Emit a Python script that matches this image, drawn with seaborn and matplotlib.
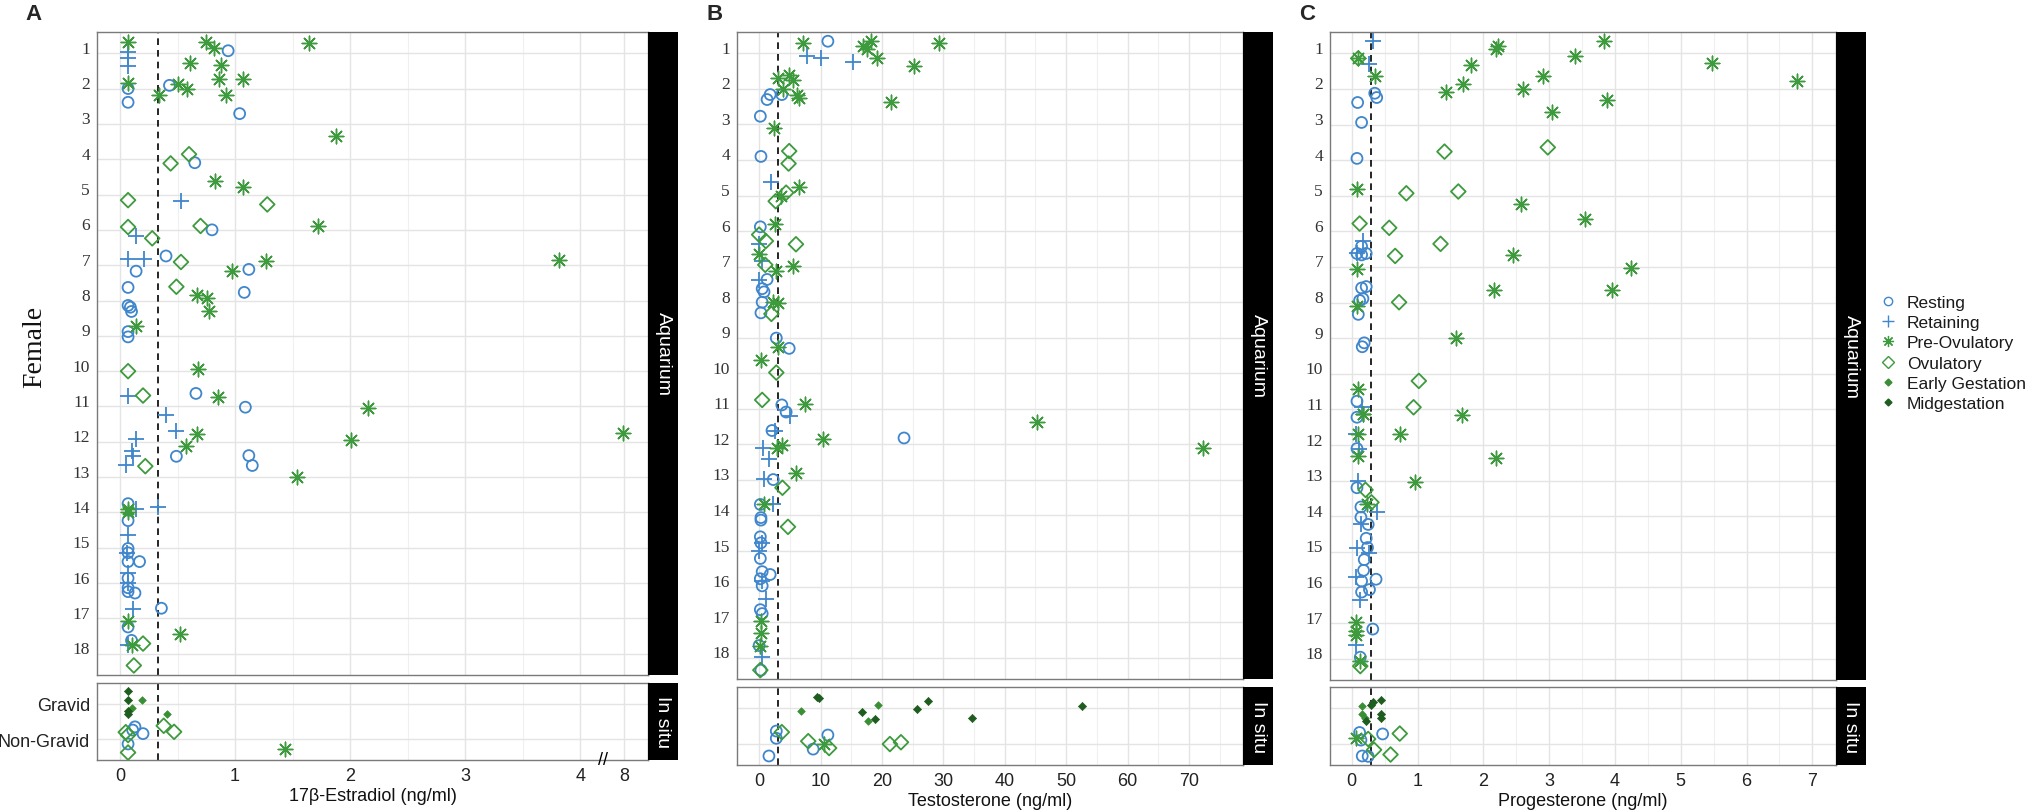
import pandas as pd
import seaborn as sns
import matplotlib.pyplot as plt
from matplotlib.lines import Line2D
from matplotlib.transforms import ScaledTranslation, blended_transform_factory

# stage codes: R resting, T retaining, P pre-ovulatory, O ovulatory,
# E early gestation, M midgestation
stage_names = {"R": "Resting", "T": "Retaining", "P": "Pre-Ovulatory",
               "O": "Ovulatory", "E": "Early Gestation", "M": "Midgestation"}

# rows: (stage, position on the female / gravid axis, concentration ng/ml)
e2_aquarium = [
    ("P", 0.69, 0.07), ("P", 0.69, 0.75), ("P", 0.86, 0.82), ("R", 0.93, 0.94), ("P", 0.70, 1.64),
    ("T", 0.97, 0.07), ("T", 1.14, 0.07), ("P", 1.29, 0.61), ("P", 1.33, 0.88), ("T", 1.36, 0.07),
    ("P", 1.83, 0.07), ("P", 1.74, 0.86), ("P", 1.74, 1.07), ("R", 1.91, 0.43), ("P", 1.88, 0.50),
    ("P", 2.00, 0.58), ("R", 2.00, 0.07), ("P", 2.19, 0.34), ("P", 2.19, 0.92), ("R", 2.39, 0.07),
    ("R", 2.71, 1.04), ("P", 3.34, 1.88),
    ("O", 3.86, 0.60), ("O", 4.12, 0.44), ("R", 4.10, 0.65),
    ("P", 4.62, 0.83), ("P", 4.79, 1.07), ("O", 5.16, 0.07), ("T", 5.19, 0.53), ("O", 5.28, 1.28),
    ("P", 5.89, 1.72), ("O", 5.92, 0.07), ("O", 5.89, 0.70), ("R", 6.00, 0.80), ("T", 6.18, 0.14),
    ("O", 6.24, 0.28), ("P", 6.85, 3.82),
    ("T", 6.83, 0.07), ("T", 6.83, 0.21), ("R", 6.74, 0.40), ("O", 6.91, 0.53), ("P", 6.88, 1.27),
    ("P", 7.17, 0.97), ("R", 7.12, 1.12), ("R", 7.17, 0.14),
    ("R", 7.63, 0.07), ("O", 7.61, 0.49), ("R", 7.77, 1.08), ("P", 7.85, 0.67), ("P", 7.94, 0.76),
    ("P", 8.30, 0.77), ("R", 8.14, 0.07), ("R", 8.19, 0.09), ("R", 8.31, 0.10),
    ("P", 8.73, 0.14), ("R", 8.88, 0.07), ("R", 9.03, 0.07),
    ("P", 9.95, 0.68), ("O", 10.00, 0.07),
    ("T", 10.69, 0.07), ("O", 10.69, 0.20), ("R", 10.63, 0.66), ("P", 10.72, 0.85), ("R", 11.02, 1.09),
    ("P", 11.05, 2.16), ("T", 11.23, 0.40), ("T", 11.68, 0.49), ("P", 11.77, 0.67), ("P", 11.74, 7.90),
    ("P", 11.96, 2.01), ("T", 11.93, 0.14), ("P", 12.13, 0.57), ("T", 12.26, 0.10), ("T", 12.40, 0.11),
    ("R", 12.41, 0.49), ("R", 12.39, 1.12), ("R", 12.67, 1.15), ("T", 12.65, 0.05), ("O", 12.69, 0.22),
    ("P", 13.00, 1.54),
    ("R", 13.75, 0.07), ("P", 13.90, 0.07), ("T", 13.90, 0.14), ("T", 13.85, 0.33), ("P", 14.00, 0.07),
    ("R", 14.23, 0.07), ("T", 14.65, 0.07),
    ("R", 15.02, 0.07), ("R", 15.14, 0.07), ("T", 15.15, 0.06), ("R", 15.39, 0.07), ("R", 15.39, 0.17),
    ("T", 15.70, 0.07), ("R", 15.86, 0.07), ("T", 15.99, 0.07), ("R", 16.13, 0.07), ("R", 16.24, 0.07),
    ("R", 16.28, 0.13), ("T", 16.73, 0.11), ("R", 16.71, 0.36),
    ("P", 17.06, 0.07), ("R", 17.24, 0.07), ("P", 17.44, 0.52), ("R", 17.62, 0.10), ("T", 17.76, 0.07),
    ("P", 17.75, 0.10), ("O", 17.71, 0.20), ("O", 18.33, 0.12),
]
e2_insitu = [
    ("M", 0.64, 0.07), ("M", 0.91, 0.07), ("E", 0.91, 0.19), ("E", 1.12, 0.10), ("M", 1.21, 0.07),
    ("M", 1.30, 0.07), ("E", 1.30, 0.41),
    ("O", 1.62, 0.38), ("O", 1.79, 0.47), ("R", 1.65, 0.13), ("R", 1.74, 0.11), ("R", 1.84, 0.20),
    ("O", 1.88, 0.07), ("O", 1.80, 0.05), ("R", 2.13, 0.07), ("P", 2.27, 1.43), ("O", 2.37, 0.07),
]

t_aquarium = [
    ("P", 0.72, 7.2), ("R", 0.66, 11.2), ("P", 0.80, 16.9), ("P", 0.89, 17.6), ("P", 0.66, 18.2),
    ("P", 0.72, 29.3), ("T", 1.08, 7.8), ("T", 1.14, 10.1), ("T", 1.23, 15.3), ("P", 1.14, 19.2),
    ("P", 1.37, 25.2),
    ("P", 1.68, 3.1), ("P", 1.60, 4.9), ("P", 1.74, 5.5), ("P", 2.00, 3.9), ("R", 2.16, 1.8),
    ("R", 2.30, 1.3), ("R", 2.16, 3.7), ("P", 2.16, 6.2), ("P", 2.27, 6.5), ("P", 2.37, 21.5),
    ("R", 2.77, 0.2), ("P", 3.11, 2.4),
    ("R", 3.90, 0.3), ("O", 3.75, 4.9), ("O", 4.10, 4.8),
    ("T", 4.62, 1.9), ("P", 4.75, 6.5), ("P", 5.00, 3.6), ("O", 4.92, 4.4), ("O", 5.16, 2.7),
    ("P", 5.80, 2.6), ("R", 5.88, 0.2), ("O", 6.10, 0.0), ("O", 6.28, 1.1), ("T", 6.37, 0.0),
    ("O", 6.37, 6.0),
    ("P", 6.64, 0.0), ("T", 6.84, 0.5), ("O", 6.95, 1.0), ("P", 7.12, 2.7), ("P", 6.99, 5.6),
    ("T", 7.39, 0.0), ("R", 7.36, 1.3), ("R", 7.62, 0.5), ("R", 7.71, 0.8),
    ("R", 8.00, 0.5), ("P", 8.00, 2.3), ("P", 8.02, 3.1), ("R", 8.30, 0.3), ("O", 8.33, 2.0),
    ("R", 9.01, 2.8), ("P", 9.27, 3.0), ("R", 9.30, 4.9),
    ("P", 9.62, 0.3), ("O", 9.98, 2.8),
    ("O", 10.75, 0.5), ("R", 10.89, 3.7), ("P", 10.86, 7.5), ("R", 11.09, 4.4), ("T", 11.20, 5.0),
    ("P", 11.37, 45.3),
    ("R", 11.61, 2.1), ("T", 11.61, 2.6), ("R", 11.82, 23.6), ("P", 11.84, 10.4), ("T", 12.10, 0.7),
    ("P", 12.01, 3.7), ("P", 12.11, 2.9), ("P", 12.10, 72.3), ("T", 12.40, 1.6),
    ("P", 12.80, 6.0), ("T", 12.97, 0.8), ("R", 12.99, 2.3), ("O", 13.22, 3.8),
    ("R", 13.69, 0.2), ("P", 13.67, 0.8), ("T", 13.69, 2.3), ("R", 14.06, 0.3), ("R", 14.13, 0.3),
    ("O", 14.32, 4.7),
    ("R", 14.60, 0.2), ("R", 14.77, 0.3), ("T", 14.78, 0.5), ("T", 15.01, 0.0), ("R", 15.21, 0.2),
    ("R", 15.58, 0.5), ("R", 15.66, 1.8), ("R", 15.78, 0.2), ("T", 15.83, 0.5), ("R", 15.98, 0.5),
    ("T", 16.34, 1.1), ("R", 16.65, 0.2), ("R", 16.76, 0.5),
    ("P", 16.96, 0.3), ("P", 17.30, 0.3), ("R", 17.66, 0.0), ("P", 17.66, 0.1), ("T", 17.97, 0.5),
    ("O", 18.35, 0.2), ("R", 18.35, 0.3),
]
t_insitu = [
    ("M", 0.70, 9.4), ("M", 0.73, 9.8), ("E", 1.09, 6.8), ("E", 0.92, 19.4), ("M", 1.11, 16.8),
    ("E", 1.36, 17.8), ("M", 1.31, 18.9), ("M", 1.03, 25.7), ("M", 0.81, 27.5), ("M", 1.28, 34.7),
    ("M", 0.95, 52.6),
    ("R", 1.64, 2.8), ("O", 1.67, 3.7), ("R", 1.84, 2.8), ("O", 1.92, 8.0), ("R", 1.75, 11.2),
    ("P", 2.00, 10.6), ("O", 2.11, 11.4), ("R", 2.14, 8.8), ("O", 2.00, 21.3), ("O", 1.95, 23.1),
    ("R", 2.33, 1.6),
]

p4_aquarium = [
    ("T", 0.66, 0.33), ("P", 1.14, 0.10), ("O", 1.14, 0.10), ("T", 1.31, 0.27), ("P", 1.64, 0.35),
    ("R", 2.12, 0.35), ("R", 2.24, 0.38), ("R", 2.38, 0.09), ("R", 2.94, 0.15), ("R", 3.95, 0.08),
    ("P", 4.81, 0.08), ("O", 5.78, 0.12), ("T", 6.26, 0.17),
    ("R", 6.42, 0.15), ("R", 6.62, 0.08), ("R", 6.66, 0.15), ("R", 6.62, 0.22), ("T", 6.60, 0.08),
    ("P", 7.05, 0.08), ("R", 7.59, 0.15), ("R", 7.55, 0.22), ("R", 7.94, 0.12), ("R", 7.89, 0.17),
    ("R", 8.33, 0.10), ("P", 8.10, 0.08),
    ("R", 9.13, 0.19), ("R", 9.24, 0.16), ("P", 10.42, 0.09), ("R", 10.77, 0.08), ("T", 10.92, 0.15),
    ("P", 11.12, 0.17),
    ("P", 0.89, 2.20), ("P", 0.80, 2.22), ("P", 0.66, 3.83), ("P", 1.08, 3.40), ("P", 1.26, 5.47),
    ("P", 1.34, 1.81), ("P", 1.87, 1.69), ("P", 2.09, 1.44), ("P", 1.64, 2.90), ("P", 1.99, 2.60),
    ("P", 2.31, 3.88), ("P", 2.66, 3.04), ("P", 1.78, 6.76),
    ("O", 3.76, 1.41), ("O", 3.64, 2.98), ("O", 4.93, 0.83), ("O", 4.88, 1.62), ("P", 5.22, 2.57),
    ("P", 5.66, 3.54), ("O", 5.90, 0.57), ("O", 6.35, 1.35), ("O", 6.69, 0.66), ("P", 6.67, 2.45),
    ("P", 7.04, 4.24), ("P", 7.65, 2.17), ("P", 7.65, 3.96), ("O", 7.99, 0.72), ("P", 9.00, 1.58),
    ("O", 10.20, 1.02), ("O", 10.94, 0.94), ("P", 11.16, 1.67),
    ("P", 11.70, 0.73), ("P", 12.37, 2.20), ("P", 13.05, 0.96),
    ("T", 11.70, 0.07), ("P", 11.70, 0.10), ("R", 11.22, 0.08), ("P", 11.14, 0.17), ("T", 12.10, 0.11),
    ("R", 12.10, 0.08), ("P", 12.30, 0.10), ("T", 13.00, 0.10), ("R", 13.20, 0.08), ("O", 13.26, 0.21),
    ("O", 13.61, 0.30), ("P", 13.67, 0.23), ("T", 13.88, 0.38), ("R", 13.74, 0.14), ("R", 14.03, 0.14),
    ("T", 14.21, 0.14), ("R", 14.23, 0.25), ("R", 14.62, 0.22), ("T", 14.88, 0.08), ("R", 14.88, 0.24),
    ("T", 15.03, 0.26), ("R", 15.22, 0.19), ("R", 15.52, 0.18), ("T", 15.71, 0.07), ("R", 15.77, 0.37),
    ("R", 15.82, 0.15), ("R", 16.06, 0.27), ("R", 16.13, 0.15), ("T", 16.35, 0.12), ("P", 16.97, 0.06),
    ("R", 17.17, 0.32), ("P", 17.23, 0.07), ("P", 17.34, 0.06), ("T", 17.61, 0.07), ("R", 17.96, 0.13),
    ("O", 18.21, 0.13), ("P", 18.07, 0.12),
]
p4_insitu = [
    ("E", 0.94, 0.15), ("E", 1.17, 0.16), ("E", 1.29, 0.20), ("M", 1.35, 0.22), ("M", 0.84, 0.32),
    ("M", 0.79, 0.45), ("M", 1.17, 0.44), ("M", 1.29, 0.45), ("M", 0.91, 0.30),
    ("R", 1.68, 0.12), ("P", 1.84, 0.06), ("R", 1.89, 0.14), ("R", 1.72, 0.47), ("O", 1.71, 0.73),
    ("O", 1.86, 0.25), ("O", 2.16, 0.34), ("O", 2.29, 0.59), ("R", 2.33, 0.16), ("R", 2.34, 0.25),
]

female_ticks = list(range(1, 19))
insitu_labels = ["Gravid", "Non-Gravid"]
e2_ticks = [0, 1, 2, 3, 4, 8]
t_ticks = [0, 10, 20, 30, 40, 50, 60, 70]
p4_ticks = [0, 1, 2, 3, 4, 5, 6, 7]
thresholds = {"A": 0.33, "B": 3.0, "C": 0.3}


def e2_scale(v):
    # broken axis: everything above 4 ng/ml squeezed into the last bit
    return v if v <= 4 else 4 + (v - 4) * 0.095


blue = "#3f86cc"
green = "#3d9a3d"
early_green = "#3a8f35"
dark_green = "#1f5c1f"

marker_style = {
    "R": dict(marker="o", s=62, facecolor="none", edgecolor=blue, linewidth=1.3),
    "T": dict(marker="+", s=135, color=blue, linewidth=1.3),
    "P": dict(marker=(8, 2, 0), s=110, color=green, linewidth=1.05),
    "O": dict(marker="D", s=56, facecolor="none", edgecolor=green, linewidth=1.3),
    "E": dict(marker="D", s=15, color=early_green, edgecolor=early_green, linewidth=0.5),
    "M": dict(marker="D", s=17, color=dark_green, edgecolor=dark_green, linewidth=0.5),
}

sns.set_theme(style="white")
plt.rcParams["font.family"] = ["Liberation Sans", "DejaVu Sans"]

W, H = 2028, 812
fig = plt.figure(figsize=(W / 100, H / 100), dpi=100)


def box(l, r, t, b):
    return [l / W, 1 - b / H, (r - l) / W, (b - t) / H]


def draw_points(ax, rows, scale=None):
    df = pd.DataFrame(rows, columns=["stage", "pos", "value"])
    if scale is not None:
        df["value"] = df["value"].map(scale)
    for code, kw in marker_style.items():
        sub = df[df["stage"] == code]
        if len(sub) == 0:
            continue
        sns.scatterplot(data=sub, x="value", y="pos", ax=ax, legend=False, zorder=3, **kw)


def dress(ax, xlim, ylim, ticks, minor, yticks):
    ax.set_xlim(xlim)
    ax.set_ylim(ylim)
    ax.set_xticks(ticks)
    ax.set_xticks(minor, minor=True)
    ax.set_yticks(yticks)
    ax.grid(which="major", color="#e4e4e4", linewidth=1.0)
    ax.grid(which="minor", axis="x", color="#f0f0f0", linewidth=0.8)
    ax.set_axisbelow(True)
    for sp in ax.spines.values():
        sp.set_color("#7a7a7a")
        sp.set_linewidth(1.0)
    ax.tick_params(which="major", length=3, width=0.8, color="#555555",
                   labelsize=13, labelcolor="#222222", pad=2)
    ax.tick_params(which="minor", length=0)
    ax.set_xlabel("")
    ax.set_ylabel("")


def strip(l, t, b, text):
    sa = fig.add_axes(box(l, l + 30, t, b))
    sa.set_facecolor("black")
    sa.set_xticks([])
    sa.set_yticks([])
    for sp in sa.spines.values():
        sp.set_visible(False)
    sa.text(0.5, 0.5, text, rotation=-90, color="white", ha="center", va="center",
            fontsize=14, transform=sa.transAxes)


panels = [
    dict(letter="A", aq=e2_aquarium, ins=e2_insitu, left=97, right=648,
         vert=(33, 676, 684, 761), xlim=(-0.2, 4.59),
         ticks=[e2_scale(v) for v in e2_ticks], labels=[str(v) for v in e2_ticks],
         minor=[0.5, 1.5, 2.5, 3.5], xlabel="17\u03b2-Estradiol (ng/ml)", scale=e2_scale,
         letter_x=34),
    dict(letter="B", aq=t_aquarium, ins=t_insitu, left=737, right=1243,
         vert=(33, 680, 688, 766), xlim=(-3.6, 78.8),
         ticks=t_ticks, labels=[str(v) for v in t_ticks],
         minor=[5, 15, 25, 35, 45, 55, 65, 75], xlabel="Testosterone (ng/ml)", scale=None,
         letter_x=715),
    dict(letter="C", aq=p4_aquarium, ins=p4_insitu, left=1330, right=1836,
         vert=(33, 681, 688, 766), xlim=(-0.33, 7.36),
         ticks=p4_ticks, labels=[str(v) for v in p4_ticks],
         minor=[0.5, 1.5, 2.5, 3.5, 4.5, 5.5, 6.5], xlabel="Progesterone (ng/ml)", scale=None,
         letter_x=1307),
]

for p in panels:
    t_aq, b_aq, t_is, b_is = p["vert"]
    thr = thresholds[p["letter"]]

    ax_aq = fig.add_axes(box(p["left"], p["right"], t_aq, b_aq))
    draw_points(ax_aq, p["aq"], p["scale"])
    ax_aq.axvline(thr, color="black", linestyle=(0, (4, 3)), linewidth=1.2, zorder=2)
    dress(ax_aq, p["xlim"], (18.6, 0.4), p["ticks"], p["minor"], female_ticks)
    ax_aq.set_xticklabels([])
    ax_aq.tick_params(axis="x", length=0)
    ax_aq.set_yticklabels([str(v) for v in female_ticks], family="Liberation Serif",
                          fontsize=12.5, color="#333333")
    shift = ScaledTranslation(0, 0.065, fig.dpi_scale_trans)
    for lab in ax_aq.get_yticklabels():
        lab.set_transform(lab.get_transform() + shift)

    ax_is = fig.add_axes(box(p["left"], p["right"], t_is, b_is))
    draw_points(ax_is, p["ins"], p["scale"])
    ax_is.axvline(thr, color="black", linestyle=(0, (4, 3)), linewidth=1.2, zorder=2)
    dress(ax_is, p["xlim"], (2.58, 0.42), p["ticks"], p["minor"], [1, 2])
    ax_is.set_xticklabels(p["labels"])
    if p["letter"] == "A":
        ax_is.set_yticklabels(insitu_labels, fontsize=13, color="#222222")
        # break marks on the squeezed part of the estradiol axis
        ax_is.text(4.2, 0, "//", transform=blended_transform_factory(ax_is.transData, ax_is.transAxes),
                   ha="center", va="center", fontsize=13, color="black", clip_on=False)
    else:
        ax_is.set_yticklabels([])
    ax_is.set_xlabel(p["xlabel"], fontsize=13, color="#111111", labelpad=2)

    strip(p["right"], t_aq, b_aq, "Aquarium")
    strip(p["right"], t_is, b_is, "In situ")

    fig.text(p["letter_x"] / W, 1 - 15 / H, p["letter"], fontsize=16, fontweight="bold",
             ha="center", va="center")

fig.text(35 / W, 1 - 347 / H, "Female", rotation=90, family="Liberation Serif",
         fontsize=20, ha="center", va="center", color="#111111")

handles = [
    Line2D([], [], linestyle="none", marker="o", markersize=6, markerfacecolor="none",
           markeredgecolor=blue, markeredgewidth=1.0),
    Line2D([], [], linestyle="none", marker="+", markersize=9, color=blue, markeredgewidth=1.0),
    Line2D([], [], linestyle="none", marker=(8, 2, 0), markersize=8, color=green, markeredgewidth=0.9),
    Line2D([], [], linestyle="none", marker="D", markersize=6, markerfacecolor="none",
           markeredgecolor=green, markeredgewidth=1.0),
    Line2D([], [], linestyle="none", marker="D", markersize=3.5, color=early_green),
    Line2D([], [], linestyle="none", marker="D", markersize=3.5, color=dark_green),
]
leg = fig.legend(handles, [stage_names[c] for c in "RTPOEM"], loc="center left",
                 bbox_to_anchor=(1879 / W, 1 - 354 / H), frameon=False, fontsize=12.5,
                 handlelength=1.0, handletextpad=0.6, labelspacing=0.3, borderpad=0,
                 borderaxespad=0)
for txt in leg.get_texts():
    txt.set_color("#1a1a1a")

fig.savefig("out.png", dpi=100)
